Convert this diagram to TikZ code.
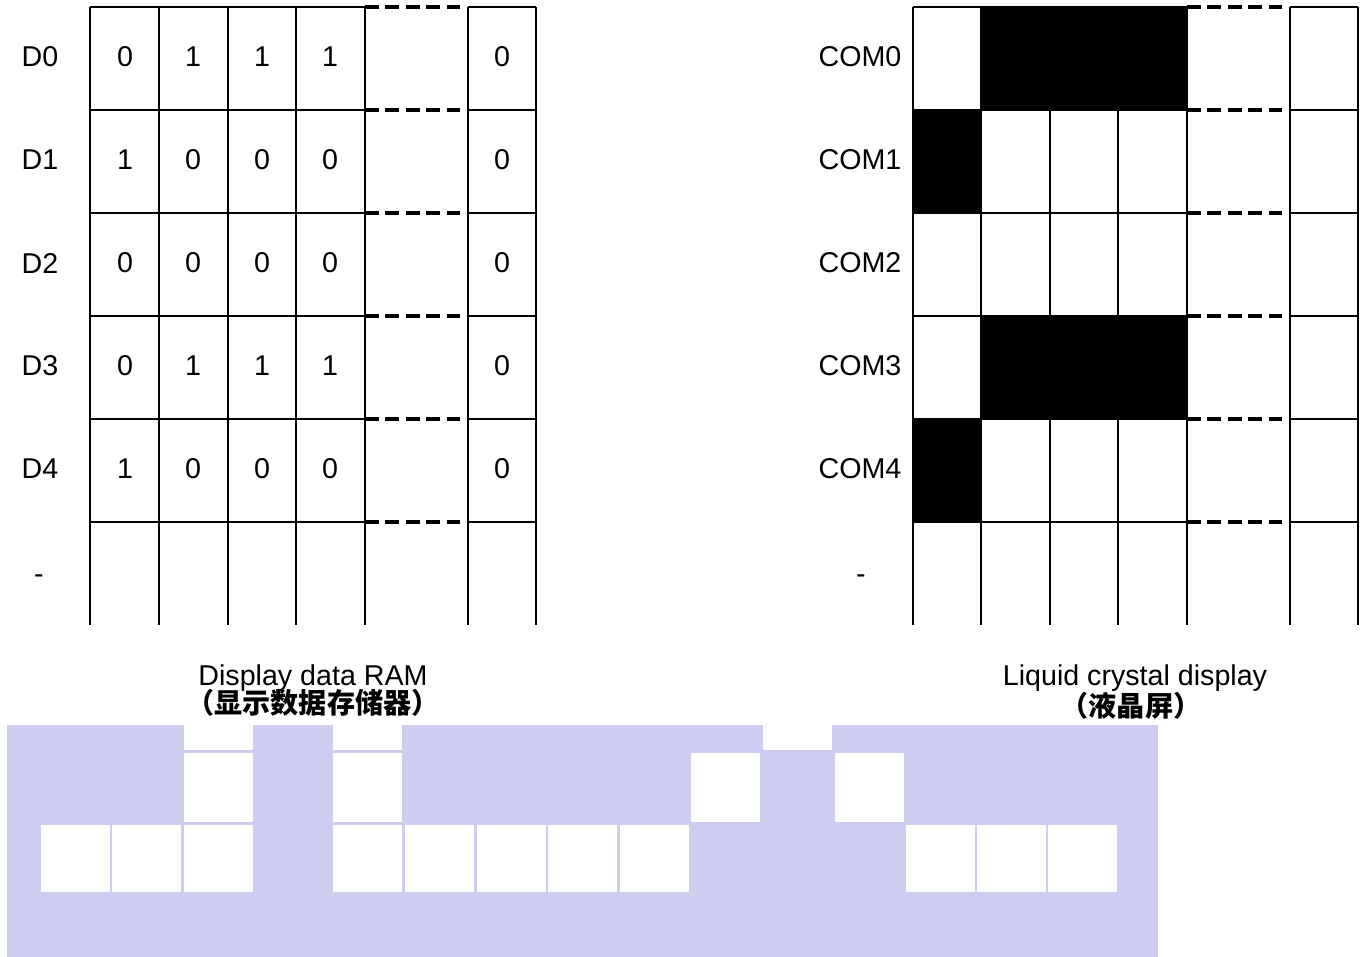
\documentclass[tikz,border=0pt]{standalone}
\usepackage{fontspec}
\setmainfont{Liberation Sans}
\newfontfamily\cjk{Noto Sans CJK SC}
\definecolor{nenTim}{RGB}{205,205,241}

\begin{document}
\begin{tikzpicture}[x=0.02cm,y=-0.02cm,
  luoi/.style={line width=0.8pt},
  net/.style={line width=2pt, dash pattern=on 7.9pt off 3.7pt},
  chu/.style={font=\fontsize{16.3}{19}\selectfont, inner sep=0pt},
  chuHan/.style={font=\cjk\bfseries\fontsize{16}{19}\selectfont, inner sep=0pt}]

\useasboundingbox (0,0) rectangle (1367,957);

% Tham số
\def\h{103}     % chiều cao một hàng
\def\yDau{7}    % mép trên của bảng
\def\yCuoi{625} % mép dưới của bảng

% Ô đen trên màn hình
\fill (981,7) rectangle (1187,110);
\fill (913,110) rectangle (981,213);
\fill (981,316) rectangle (1187,419);
\fill (913,419) rectangle (981,522);

% Các cột dọc
\foreach \x in {90,159,228,296,365,468,536,913,981,1050,1118,1187,1290,1358}
  \draw[luoi] (\x,\yDau) -- (\x,\yCuoi);

% Các hàng ngang (có đoạn nét đứt)
\foreach \j in {0,...,5} {
  \pgfmathsetmacro\y{\yDau+\h*\j}
  \draw[luoi] (90,\y) -- (365,\y);
  \draw[net] (365,\y) -- (462,\y);
  \draw[luoi] (468,\y) -- (536,\y);
  \draw[luoi] (913,\y) -- (1187,\y);
  \draw[net] (1187,\y) -- (1284,\y);
  \draw[luoi] (1290,\y) -- (1358,\y);
}

% Dữ liệu trong RAM
\foreach \lab/\a/\b/\c/\d [count=\i from 0] in
  {D0/0/1/1/1, D1/1/0/0/0, D2/0/0/0/0, D3/0/1/1/1, D4/1/0/0/0} {
  \pgfmathsetmacro\y{57+\h*\i}
  \node[chu] (d\i) at (40,\y) {\lab};
  \node[chu] (d\i-a) at (125,\y) {\a};
  \node[chu] (d\i-b) at (193,\y) {\b};
  \node[chu] (d\i-c) at (262,\y) {\c};
  \node[chu] (d\i-d) at (330,\y) {\d};
  \node[chu] (d\i-f) at (502,\y) {0};
  \node[chu] (com\i) at (860,\y) {COM\i};
}
\node[chu] (d5) at (39,579) {-};
\node[chu] (com5) at (861,579) {-};

% Chú thích
\node[chu, anchor=base] (tenRam) at (313,685) {Display data RAM};
\node[chuHan] (tenRamHan) at (313,703) {（显示数据存储器）};
\node[chu, anchor=base] (tenLcd) at (1135,685) {Liquid crystal display};
\node[chuHan] (tenLcdHan) at (1131,706) {（液晶屏）};

% Khối màu tím nhạt phía dưới
\fill[nenTim] (7,725) rectangle (1158,957);
\foreach \x in {184,333,763}
  \fill[white] (\x,725) rectangle (\x+69,750);
\foreach \x in {184,333,691,835}
  \fill[white] (\x,753) rectangle (\x+69,822);
\foreach \x in {41,112,184,333,405,477,548,620,906,977,1048}
  \fill[white] (\x,825) rectangle (\x+69,892);

\end{tikzpicture}
\end{document}
